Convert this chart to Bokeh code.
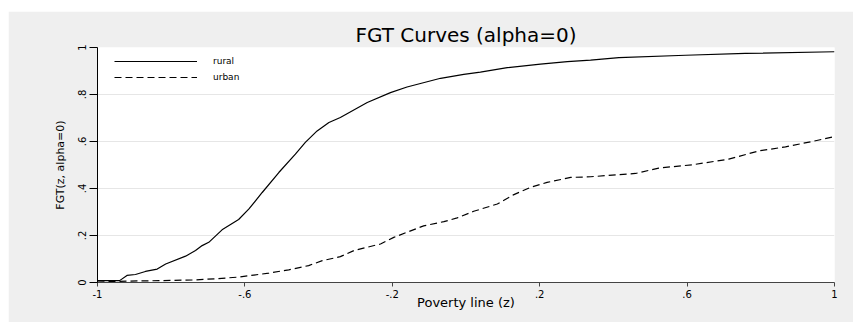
from bokeh.plotting import figure
from bokeh.models import Range1d, FixedTicker, Legend, LegendItem, Spacer
from bokeh.layouts import column, row
from bokeh.embed import file_html
from bokeh.resources import INLINE

# Data
rural_z = [-1.0, -0.94, -0.92, -0.897, -0.87, -0.838, -0.815, -0.761, -0.734, -0.716,
           -0.698, -0.662, -0.617, -0.589, -0.553, -0.508, -0.463, -0.436, -0.404, -0.372,
           -0.341, -0.268, -0.205, -0.160, -0.069, -0.006, 0.039, 0.112, 0.202, 0.275,
           0.338, 0.415, 0.596, 0.758, 1.0]
rural_fgt = [0.008, 0.008, 0.03, 0.034, 0.047, 0.057, 0.079, 0.112, 0.136, 0.157,
             0.171, 0.224, 0.268, 0.313, 0.383, 0.468, 0.546, 0.596, 0.645, 0.681,
             0.702, 0.766, 0.808, 0.832, 0.869, 0.886, 0.895, 0.914, 0.929, 0.940,
             0.946, 0.957, 0.967, 0.975, 0.982]

urban_z = [-1.0, -0.916, -0.825, -0.734, -0.68, -0.617, -0.535, -0.481, -0.427, -0.390,
           -0.341, -0.304, -0.232, -0.196, -0.160, -0.115, -0.060, -0.024, 0.021, 0.085,
           0.130, 0.175, 0.220, 0.284, 0.338, 0.460, 0.523, 0.614, 0.713, 0.795,
           0.867, 0.939, 1.0]
urban_fgt = [0.002, 0.006, 0.008, 0.011, 0.016, 0.023, 0.040, 0.054, 0.072, 0.093,
             0.110, 0.136, 0.164, 0.192, 0.214, 0.241, 0.259, 0.275, 0.303, 0.334,
             0.374, 0.405, 0.426, 0.447, 0.450, 0.464, 0.487, 0.501, 0.525, 0.560,
             0.577, 0.600, 0.621]

x_ticks = [-1, -0.6, -0.2, 0.2, 0.6, 1]
x_tick_labels = ["-1", "-.6", "-.2", ".2", ".6", "1"]
y_ticks = [0, 0.2, 0.4, 0.6, 0.8, 1]
y_tick_labels = ["0", ".2", ".4", ".6", ".8", "1"]

title_text = "FGT Curves (alpha=0)"
x_label = "Poverty line (z)"
y_label = "FGT(z, alpha=0)"
series_names = ["rural", "urban"]

FONT = "DejaVu Sans"
BG = "#efefef"

W, H = 845, 311

p = figure(width=W, height=H, output_backend="svg", toolbar_location=None,
           x_range=Range1d(-1, 1), y_range=Range1d(0, 1),
           min_border_left=89, min_border_right=19, min_border_top=36, min_border_bottom=40)

p.background_fill_color = "white"
p.border_fill_color = BG
p.outline_line_color = None

p.title.text = title_text
p.title.align = "center"
p.title.text_font = FONT
p.title.text_font_size = "20px"
p.title.text_font_style = "normal"
p.title.text_color = "black"
p.title.standoff = 2

r1 = p.line(rural_z, rural_fgt, line_color="black", line_width=1.2)
r2 = p.line(urban_z, urban_fgt, line_color="black", line_width=1.2, line_dash="7 4")

# axes
xa = p.xaxis[0]
xa.ticker = FixedTicker(ticks=x_ticks)
xa.major_label_overrides = {t: l for t, l in zip(x_ticks, x_tick_labels)}
xa.minor_tick_line_color = None
xa.major_tick_in = 0
xa.major_tick_out = 4
xa.axis_line_color = "#444444"
xa.major_tick_line_color = "#444444"
xa.major_label_standoff = 3
xa.major_label_text_font = FONT
xa.major_label_text_font_size = "10px"
xa.major_label_text_color = "black"
xa.axis_label = x_label
xa.axis_label_text_font = FONT
xa.axis_label_text_font_size = "13px"
xa.axis_label_text_font_style = "normal"
xa.axis_label_text_color = "black"
xa.axis_label_standoff = -6

ya = p.yaxis[0]
ya.ticker = FixedTicker(ticks=y_ticks)
ya.major_label_overrides = {t: l for t, l in zip(y_ticks, y_tick_labels)}
ya.minor_tick_line_color = None
ya.major_tick_in = 0
ya.major_tick_out = 8
ya.axis_line_color = "black"
ya.major_tick_line_color = "black"
ya.major_label_orientation = "vertical"
ya.major_label_standoff = 4
ya.major_label_text_font = FONT
ya.major_label_text_font_size = "10px"
ya.major_label_text_color = "black"
ya.axis_label = y_label
ya.axis_label_text_font = FONT
ya.axis_label_text_font_size = "11px"
ya.axis_label_text_font_style = "normal"
ya.axis_label_text_color = "black"
ya.axis_label_standoff = 8

p.xgrid.grid_line_color = None
p.ygrid.grid_line_color = "#e6e6e6"
p.ygrid.grid_line_width = 1

legend = Legend(items=[LegendItem(label=series_names[0], renderers=[r1]),
                       LegendItem(label=series_names[1], renderers=[r2])],
                location=(17, 197), margin=0, padding=0, spacing=0,
                glyph_width=83, glyph_height=16, label_height=16,
                label_standoff=16, label_text_font=FONT, label_text_font_size="9px",
                label_text_color="black",
                border_line_color=None, background_fill_alpha=0)
p.add_layout(legend)

layout = row(Spacer(width=8, height=H + 11),
             column(Spacer(height=11, width=W), p, spacing=0),
             spacing=0)

open("out.html", "w").write(file_html(layout, INLINE))
